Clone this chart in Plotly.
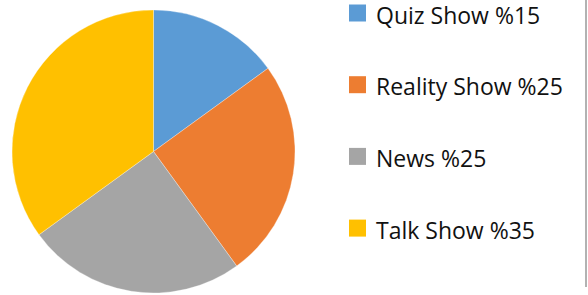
import plotly.graph_objects as go

labels = ["Quiz Show", "Reality Show", "News", "Talk Show"]
values = [15, 25, 25, 35]
legend_text = ["Quiz Show %15", "Reality Show %25", "News %25", "Talk Show %35"]
colors = ["#5B9BD5", "#ED7D31", "#A5A5A5", "#FFC000"]

W, H = 588, 295

fig = go.Figure(go.Pie(
    labels=labels,
    values=values,
    sort=False,
    direction="clockwise",
    rotation=0,
    marker=dict(colors=colors, line=dict(color="white", width=0.3)),
    textinfo="none",
    hoverinfo="label+percent",
    showlegend=False,
    domain=dict(x=[12 / W, 295 / W], y=[(H - 293) / H, (H - 10) / H]),
))

shapes = []
annotations = []
y0 = 13
step = 71.7
for i, (t, c) in enumerate(zip(legend_text, colors)):
    yc = y0 + i * step
    shapes.append(dict(type="rect", xref="paper", yref="paper",
                       x0=349 / W, x1=366 / W,
                       y0=(H - (yc - 8.5)) / H, y1=(H - (yc + 8.5)) / H,
                       fillcolor=c, line=dict(width=0)))
    annotations.append(dict(xref="paper", yref="paper", x=375 / W, y=(H - yc - 1.5) / H,
                            xanchor="left", yanchor="middle", showarrow=False,
                            borderpad=0,
                            text=t, font=dict(family="Open Sans", size=23, color="#111111")))

shapes.append(dict(type="line", xref="paper", yref="paper", x0=586 / W, x1=586 / W,
                   y0=1, y1=(H - 287) / H, line=dict(color="#999999", width=1.5)))

fig.update_layout(
    width=W, height=H,
    margin=dict(l=0, r=0, t=0, b=0),
    paper_bgcolor="white",
    plot_bgcolor="white",
    shapes=shapes,
    annotations=annotations,
)

fig.write_html("out.html",
               config={"displayModeBar": False},
               post_script="document.body.style.margin='0px';document.body.style.overflow='hidden';")
